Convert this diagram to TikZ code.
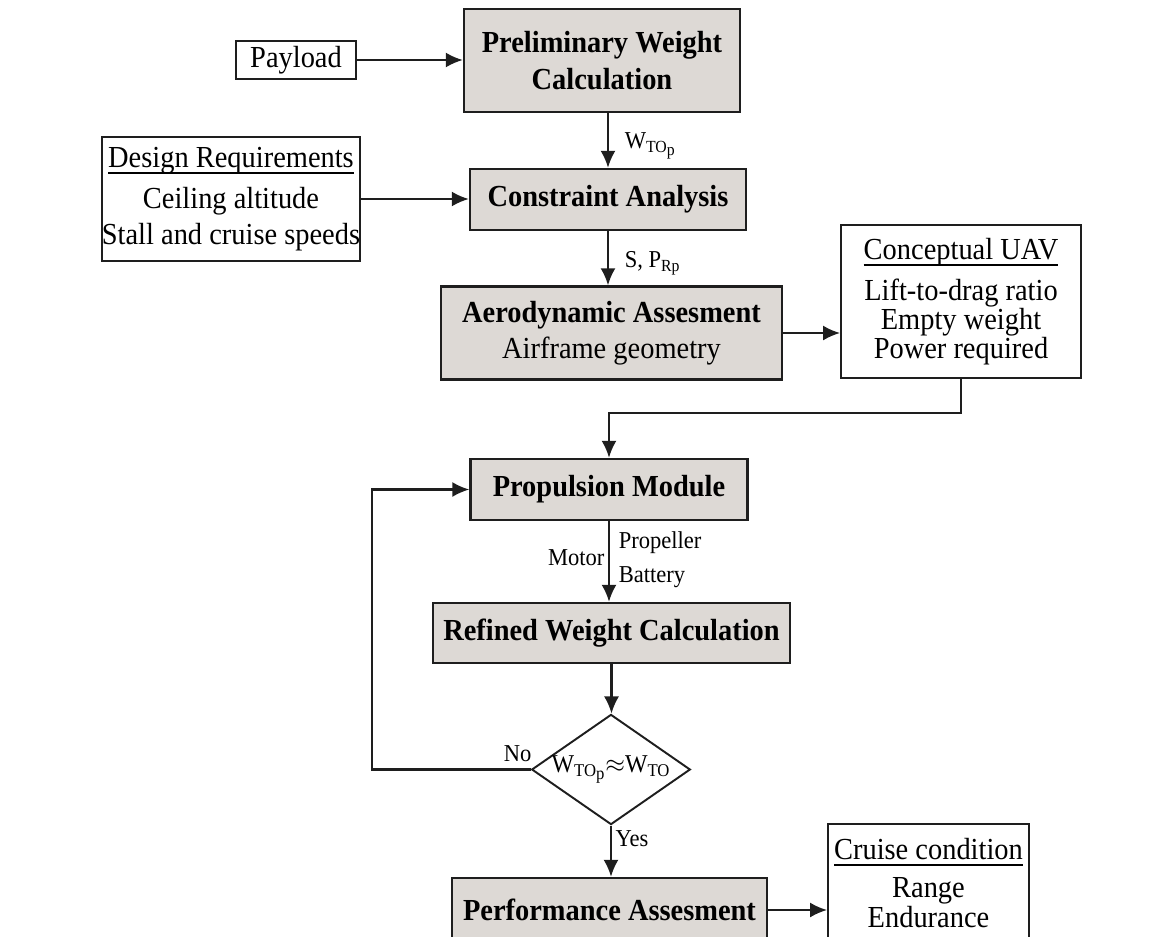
\documentclass[tikz,border=0pt]{standalone}
\usepackage{fontspec}
\setmainfont{Liberation Serif}[FakeStretch=0.93]
\usetikzlibrary{arrows.meta,shapes.geometric,calc}
\definecolor{boxgray}{RGB}{221,217,213}
\definecolor{lineblack}{RGB}{30,30,30}
\newcommand{\hdline}[1]{\setbox0\hbox{#1}\rlap{\rule[-0.22em]{\wd0}{1.1pt}}\box0}

\begin{document}
\begin{tikzpicture}[x=0.02cm,y=-0.02cm,>={Latex[length=0.34cm,width=0.3cm]},
    process/.style={draw=lineblack,line width=1.4pt,fill=boxgray,align=center,inner sep=0pt,font=\fontsize{17.4}{21}\selectfont\bfseries},
    infobox/.style={draw=lineblack,line width=1.1pt,fill=white,align=center,inner sep=0pt,font=\fontsize{17.4}{20.5}\selectfont},
    decision/.style={diamond,draw=lineblack,line width=1.1pt,aspect=1.44,inner sep=0pt,font=\fontsize{14.6}{16}\selectfont},
    flow/.style={->,line width=1.15pt,draw=lineblack},
    lbl/.style={inner sep=2pt,font=\fontsize{13.8}{15}\selectfont}]
    % Page frame
    \useasboundingbox (0,0) rectangle (1164,937);
    \clip (0,0) rectangle (1164,937);

    % Main column
    \node[process,minimum width=5.52cm,minimum height=2.06cm] (pwc) at (602,60.5) {Preliminary Weight\\Calculation};
    \node[process,minimum width=5.52cm,minimum height=1.22cm] (con) at (608,199.5) {Constraint Analysis};
    \node[process,minimum width=6.82cm,minimum height=1.86cm,font=\fontsize{17.4}{20.5}\selectfont] (aero) at (611.5,333) {\textbf{Aerodynamic Assesment}\\Airframe geometry};
    \node[process,minimum width=5.54cm,minimum height=1.22cm] (prop) at (609,489.5) {Propulsion Module};
    \node[process,minimum width=7.14cm,minimum height=1.2cm] (ref) at (611.5,633) {Refined Weight Calculation};
    \node[decision,minimum width=3.08cm,minimum height=2.14cm] (dia) at (611,769.5) {W\textsubscript{TO\raisebox{-0.4ex}{p}}$\approx$W\textsubscript{TO}};
    \node[process,minimum width=6.3cm,minimum height=1.28cm] (perf) at (609.5,910) {Performance Assesment};

    % Side boxes
    \node[infobox,minimum width=2.4cm,minimum height=0.76cm] (pay) at (296,60) {Payload};
    \node[infobox,minimum width=5.16cm,minimum height=2.48cm] (req) at (231,199) {\hdline{Design Requirements}\\[3pt]Ceiling altitude\\Stall and cruise speeds};
    \node[infobox,minimum width=4.8cm,minimum height=3.06cm,font=\fontsize{17.4}{16.5}\selectfont] (uav) at (961,301.5) {\hdline{Conceptual UAV}\\[7pt]Lift-to-drag ratio\\Empty weight\\Power required};
    \node[infobox,minimum width=4.02cm,minimum height=2.36cm,font=\fontsize{17.4}{17}\selectfont] (cru) at (928.5,883) {\hdline{Cruise condition}\\[5pt]Range\\Endurance};

    % Helper points for the bends
    \coordinate (loop) at (372,0);
    \coordinate (join) at (0,413);

    % Inputs and outputs to the side
    \foreach \src/\dst in {pay/pwc,req/con,aero/uav,perf/cru}
        \draw[flow] (\src.east) -- (\src.east -| \dst.west);

    % Down the main column
    \draw[flow] (con.north |- pwc.south) -- node[lbl,right,pos=0.6,xshift=7pt] (wtop) {W\textsubscript{TO\raisebox{-0.4ex}{p}}} (con.north);
    \draw[flow] (con.south) -- node[lbl,right,pos=0.6,xshift=7pt] (spr) {S, P\textsubscript{Rp}} (con.south |- aero.north);
    \draw[flow] (uav.south) -- (uav.south |- join) -| (prop.north);
    \draw[flow] (prop.south) -- (prop.south |- ref.north)
        node[lbl,pos=0.45,left] (mot) {Motor}
        node[lbl,pos=0.27,right,xshift=3pt] (pro) {Propeller}
        node[lbl,pos=0.69,right,xshift=3pt] (bat) {Battery};
    \draw[flow] (ref.south) -- (ref.south |- dia.north);
    \draw[flow] (dia.south) -- node[lbl,right,pos=0.25] (yes) {Yes} (dia.south |- perf.north);

    % Loop back when the weights disagree
    \draw[flow] (dia.west) node[lbl,above left,xshift=3pt,yshift=2pt] (no) {No} -- (dia.west -| loop) |- (prop.west);
\end{tikzpicture}
\end{document}
